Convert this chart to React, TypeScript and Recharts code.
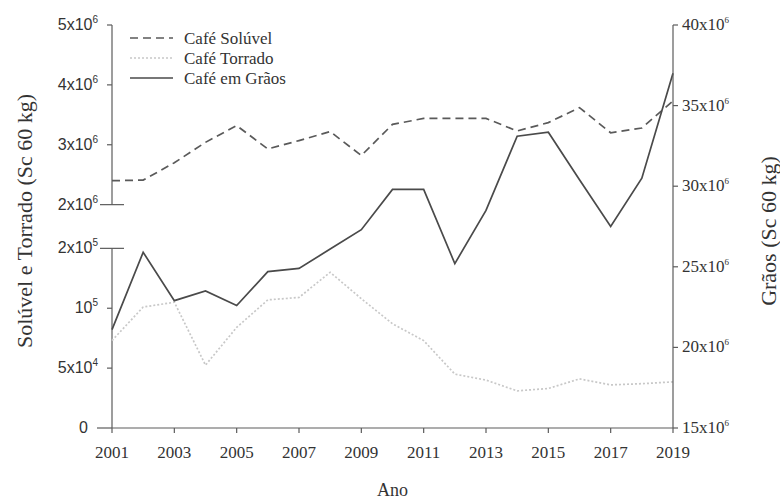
import * as React from "react";
import { LineChart, Line, XAxis, YAxis, ReferenceLine } from "recharts";

const years = [2001, 2002, 2003, 2004, 2005, 2006, 2007, 2008, 2009, 2010, 2011, 2012, 2013, 2014, 2015, 2016, 2017, 2018, 2019];
const soluvel = [2.4e6, 2.41e6, 2.7e6, 3.04e6, 3.32e6, 2.93e6, 3.07e6, 3.22e6, 2.82e6, 3.34e6, 3.44e6, 3.44e6, 3.44e6, 3.23e6, 3.37e6, 3.62e6, 3.2e6, 3.28e6, 3.73e6];
const torrado = [73000, 101000, 105000, 52500, 84000, 107000, 109000, 130000, 108000, 87000, 73000, 45000, 40000, 31000, 33000, 41000, 36000, 37000, 38500];
const graos = [21.1e6, 25.9e6, 22.9e6, 23.5e6, 22.6e6, 24.7e6, 24.9e6, 26.1e6, 27.3e6, 29.8e6, 29.8e6, 25.2e6, 28.5e6, 33.1e6, 33.35e6, 30.4e6, 27.5e6, 30.5e6, 37.0e6];

const xTicks = [2001, 2003, 2005, 2007, 2009, 2011, 2013, 2015, 2017, 2019];
const leftTicks = [0, 50000, 100000, 150000, 2e6, 3e6, 4e6, 5e6];
const leftBase = ["0", "5x10", "10", "2x10", "2x10", "3x10", "4x10", "5x10"];
const leftExp = ["", "4", "5", "5", "6", "6", "6", "6"];
const rightTicks = [15e6, 20e6, 25e6, 30e6, 35e6, 40e6];
const rightBase = ["15x10", "20x10", "25x10", "30x10", "35x10", "40x10"];

// broken left axis: 0..1.5e5 below the break, 2e6..5e6 above it
const BREAK_LOW = 150000;
const BREAK_HIGH = 2e6;
const GAP = 0.73;
function toLeft(v: number) {
  return v <= BREAK_LOW ? v / 50000 : 3 + GAP + (v - BREAK_HIGH) / 1e6;
}

const data = years.map((year, i) => ({
  year,
  soluvel: toLeft(soluvel[i]),
  torrado: toLeft(torrado[i]),
  graos: graos[i],
}));

const leftPos = leftTicks.map(toLeft);
const AXIS = "#5c5c5c";
const SERIF = "'Liberation Serif', 'Times New Roman', serif";
const SANS = "'Liberation Sans', Arial, sans-serif";

function LeftTick(props: any) {
  const { x, y, payload } = props;
  let i = 0;
  leftPos.forEach((p, k) => {
    if (Math.abs(p - payload.value) < 1e-6) i = k;
  });
  const isBreak = i === 3 || i === 4;
  const x1 = isBreak ? x - 12 : i === 0 ? x - 15 : x - 5;
  const x2 = isBreak ? x + 12 : x;
  return (
    <g>
      <line x1={x1} x2={x2} y1={y} y2={y} stroke={AXIS} strokeWidth={1.2} />
      <text x={i === 0 ? x - 24 : x - 14} y={y + 5} textAnchor="end" fontFamily={SANS} fontSize={16} fill="#333">
        {leftBase[i]}
        {leftExp[i] && (
          <tspan dy={-7} fontSize={10}>
            {leftExp[i]}
          </tspan>
        )}
      </text>
    </g>
  );
}

function RightTick(props: any) {
  const { x, y, payload } = props;
  const i = rightTicks.indexOf(payload.value);
  return (
    <g>
      <line x1={x} x2={x + 5} y1={y} y2={y} stroke={AXIS} strokeWidth={1.2} />
      <text x={x + 9} y={y + 5} textAnchor="start" fontFamily={SERIF} fontSize={17} fill="#333">
        {rightBase[i]}
        <tspan dy={-7} fontSize={9}>6</tspan>
      </text>
    </g>
  );
}

function XTick(props: any) {
  const { x, y, payload } = props;
  return (
    <g>
      <line x1={x} x2={x} y1={y} y2={y + 5} stroke={AXIS} strokeWidth={1.2} />
      <text x={x} y={y + 30} textAnchor="middle" fontFamily={SERIF} fontSize={17} fill="#333">
        {payload.value}
      </text>
    </g>
  );
}

const legendItems = [
  { name: "Café Solúvel", color: "#5a5a5a", dash: "8 5" },
  { name: "Café Torrado", color: "#c8c8c8", dash: "2 2" },
  { name: "Café em Grãos", color: "#4a4a4a", dash: undefined },
];

export default function App() {
  return (
    <div style={{ position: "absolute", left: 0, top: 0, width: 780, height: 500, background: "#fff" }}>
      <LineChart width={780} height={500} data={data} margin={{ top: 25, right: 0, bottom: 0, left: 0 }}>
        <XAxis
          dataKey="year"
          type="number"
          domain={[2001, 2019]}
          ticks={xTicks}
          height={72}
          tickSize={0}
          tickMargin={0}
          tickLine={false}
          stroke={AXIS}
          strokeWidth={1.2}
          tick={<XTick />}
          label={{
            content: (p: any) => (
              <text x={p.viewBox.x + p.viewBox.width / 2} y={p.viewBox.y + 68} textAnchor="middle" fontFamily={SERIF} fontSize={18} fill="#333">
                Ano
              </text>
            ),
          }}
        />
        <YAxis
          yAxisId="left"
          orientation="left"
          width={112}
          type="number"
          domain={[0, toLeft(5e6)]}
          ticks={leftPos}
          axisLine={false}
          tickLine={false}
          tickSize={0}
          tickMargin={0}
          tick={<LeftTick />}
          label={{
            content: (p: any) => {
              const cx = p.viewBox.x + 24;
              const cy = p.viewBox.y + 196;
              return (
                <text x={cx} y={cy} transform={`rotate(-90 ${cx} ${cy})`} textAnchor="middle" dominantBaseline="central" fontFamily={SERIF} fontSize={22} fill="#333">
                  Solúvel e Torrado (Sc 60 kg)
                </text>
              );
            },
          }}
        />
        <YAxis
          yAxisId="right"
          orientation="right"
          width={107}
          type="number"
          domain={[15e6, 40e6]}
          ticks={rightTicks}
          tickLine={false}
          tickSize={0}
          tickMargin={0}
          stroke={AXIS}
          strokeWidth={1.2}
          tick={<RightTick />}
          label={{
            content: (p: any) => {
              const cx = p.viewBox.x + 95;
              const cy = p.viewBox.y + 206;
              return (
                <text x={cx} y={cy} transform={`rotate(-90 ${cx} ${cy})`} textAnchor="middle" dominantBaseline="central" fontFamily={SERIF} fontSize={22} fill="#333">
                  Grãos (Sc 60 kg)
                </text>
              );
            },
          }}
        />
        <ReferenceLine yAxisId="left" segment={[{ x: 2001, y: 0 }, { x: 2001, y: 3 }]} stroke={AXIS} strokeWidth={1.2} />
        <ReferenceLine yAxisId="left" segment={[{ x: 2001, y: 3 + GAP }, { x: 2001, y: toLeft(5e6) }]} stroke={AXIS} strokeWidth={1.2} />
        <Line yAxisId="left" dataKey="torrado" stroke="#c8c8c8" strokeWidth={1.7} strokeDasharray="2 2" dot={false} isAnimationActive={false} />
        <Line yAxisId="left" dataKey="soluvel" stroke="#5a5a5a" strokeWidth={1.7} strokeDasharray="8 5" dot={false} isAnimationActive={false} />
        <Line yAxisId="right" dataKey="graos" stroke="#4a4a4a" strokeWidth={1.7} dot={false} isAnimationActive={false} />
      </LineChart>
      <svg width={220} height={80} style={{ position: "absolute", left: 125, top: 25 }}>
        {legendItems.map((it, i) => (
          <g key={it.name}>
            <line x1={5} x2={48} y1={13 + i * 20} y2={13 + i * 20} stroke={it.color} strokeWidth={1.6} strokeDasharray={it.dash} />
            <text x={59} y={19 + i * 20} fontFamily={SERIF} fontSize={17} fill="#333">
              {it.name}
            </text>
          </g>
        ))}
      </svg>
    </div>
  );
}
